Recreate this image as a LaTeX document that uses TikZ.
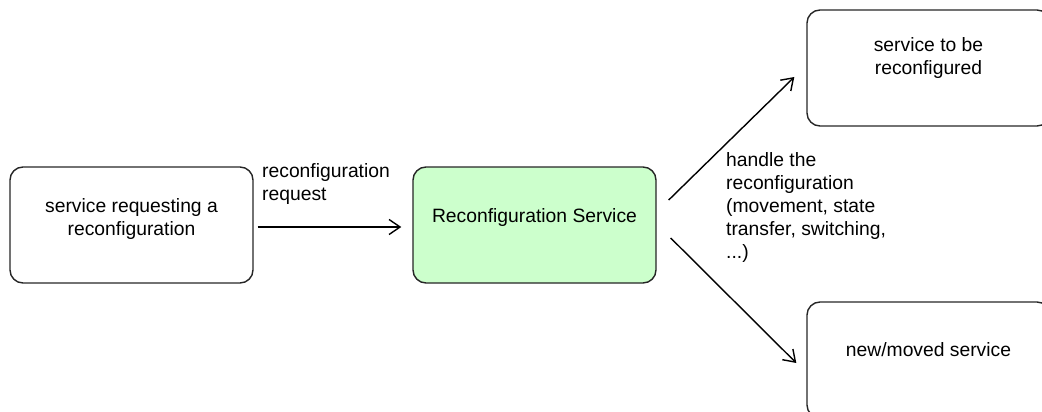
\documentclass[tikz,border=0pt]{standalone}
\usepackage{fontspec}
\setmainfont{Liberation Sans}
\usetikzlibrary{arrows.meta,calc}
\begin{document}
\begin{tikzpicture}[x=1pt,y=-1pt,
  box/.style={draw=black!85, line width=1.4pt, rounded corners=13pt,
    minimum width=243pt, minimum height=116pt, inner sep=0pt},
  txt/.style={inner sep=0pt, align=center, font=\fontsize{19.3}{23}\selectfont},
  ltxt/.style={inner sep=0pt, align=left, anchor=west, font=\fontsize{19.3}{23}\selectfont},
  arr/.style={line width=1.4pt, -{Straight Barb[length=11pt,width=15pt,line width=1.4pt]}}]
\useasboundingbox (0,0) rectangle (1042,412);
\clip (0,0) rectangle (1042,412);
\definecolor{svcgreen}{HTML}{CCFFCC}

% boxes
\node[box] (req) at (131.5,225) {};
\node[box, fill=svcgreen] (rs) at (534.5,225) {};
\node[box] (tbr) at (928.5,68) {};
\node[box] (nms) at (928.5,360) {};

% box texts
\node[txt] (reqt) at (131.5,219) {service requesting a\\reconfiguration};
\node[txt] (rst) at (534.5,218) {Reconfiguration Service};
\node[txt] (tbrt) at (928.5,58) {service to be\\reconfigured};
\node[txt] (nmst) at (928.5,350) {new/moved service};

% connectors
\draw[arr] ($(req.east)+(4,2)$) -- ($(rs.west)+(-11,2)$);
\draw[arr] ($(rs.east)+(12,-25)$) -- ($(tbr.west)+(-12,9)$);
\draw[arr] ($(rs.east)+(14,13)$) -- ($(nms.west)+(-10,3)$);

% connector labels
\node[ltxt] (lreq) at (262,184.5) {reconfiguration\\request};
\node[ltxt] (lhdl) at (726,207.5) {handle the\\reconfiguration\\(movement, state\\transfer, switching,\\...)};
\end{tikzpicture}
\end{document}
